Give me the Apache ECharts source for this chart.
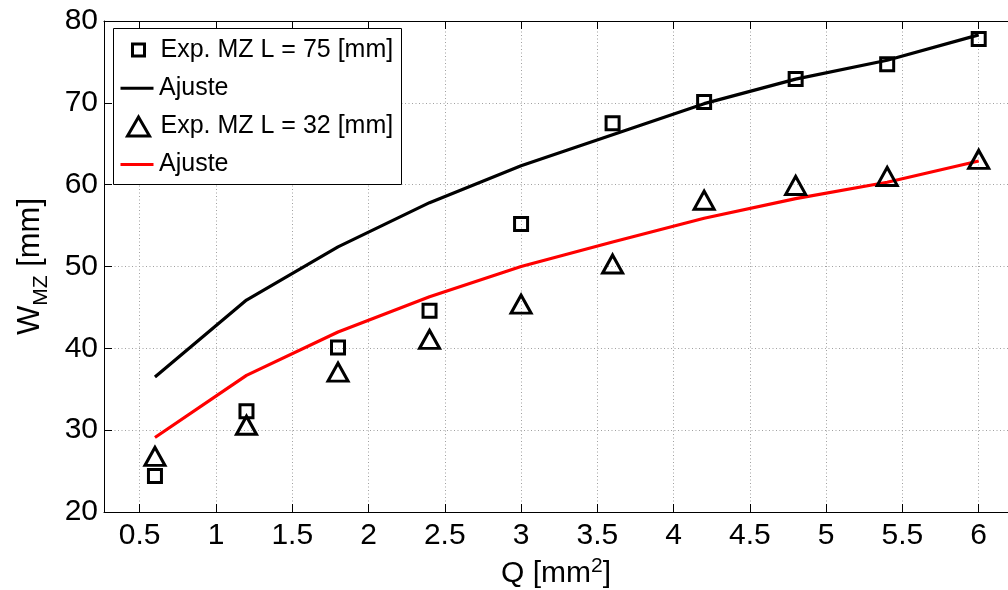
<!DOCTYPE html>
<html>
<head>
<meta charset="utf-8">
<script src="https://cdn.jsdelivr.net/npm/echarts/dist/echarts.min.js"></script>
<style>
html,body{margin:0;padding:0;background:#fff;}
#chart{width:1008px;height:590px;}
</style>
</head>
<body>
<div id="chart"></div>
<script>
// ---- data ----
const xQ      = [0.6, 1.2, 1.8, 2.4, 3.0, 3.6, 4.2, 4.8, 5.4, 6.0];
const expL75  = [24.4, 32.3, 40.1, 44.6, 55.2, 67.5, 70.1, 72.9, 74.7, 77.8];
const fitL75  = [36.5, 45.9, 52.4, 57.8, 62.3, 66.1, 69.9, 72.9, 75.2, 78.3];
const expL32  = [26.8, 30.6, 37.1, 41.1, 45.4, 50.3, 58.1, 59.9, 61.0, 63.1];
const fitL32  = [29.1, 36.7, 42.0, 46.3, 50.0, 53.0, 55.9, 58.3, 60.3, 62.9];
const yTicks  = [20, 30, 40, 50, 60, 70, 80];
const names   = ['Exp. MZ L = 75 [mm]', 'Ajuste 75', 'Exp. MZ L = 32 [mm]', 'Ajuste 32'];

const pair = (xs, ys) => xs.map((x, i) => [x, ys[i]]);
const FONT = "'Liberation Sans', Arial, Helvetica, sans-serif";
const X_MIN = 0.266, X_MAX = 6.192;
const gridLine = {show: true, lineStyle: {color: '#a0a0a0', type: [1, 2.5], width: 1}};

const chart = echarts.init(document.getElementById('chart'), null, {renderer: 'canvas'});

const txt = pad => ({fontFamily: FONT, fontSize: 25, color: '#000', lineHeight: 30, padding: [0, 0, 0, pad]});
const hollow = {color: 'rgba(0,0,0,0)', borderColor: '#000', borderWidth: 3, opacity: 1};
const legendBase = {
  orient: 'horizontal', padding: 0, itemGap: 0, selectedMode: false, z: 5,
  formatter: n => n.indexOf('Ajuste') === 0 ? 'Ajuste' : n
};
const rowY = [50, 88.3, 126.5, 164.5];
const ICON_CX = 137, TEXT_X = 159;
const legendSpec = [
  {icon: 'rect', w: 12, h: 12, itemStyle: hollow},
  {icon: 'rect', w: 33, h: 3, itemStyle: {color: '#000', borderWidth: 0, opacity: 1}},
  {icon: 'triangle', w: 22, h: 19, itemStyle: hollow},
  {icon: 'rect', w: 33, h: 3, itemStyle: {color: '#ff0000', borderWidth: 0, opacity: 1}}
];

const option = {
  animation: false,
  backgroundColor: '#fff',
  grid: {left: 104, top: 21, right: 0, bottom: 78, containLabel: false, outerBoundsMode: 'none'},
  xAxis: [
    {
      type: 'value', min: X_MIN, max: X_MAX, splitNumber: 12, position: 'bottom',
      name: 'Q [mm{sup|2}]', nameLocation: 'middle', nameGap: 38,
      nameTextStyle: {fontFamily: FONT, fontSize: 30, color: '#000', lineHeight: 36,
        rich: {sup: {fontFamily: FONT, fontSize: 21, color: '#000', verticalAlign: 'top', lineHeight: 22}}},
      axisLine: {show: true, onZero: false, lineStyle: {color: '#000', width: 1}},
      axisTick: {show: true, inside: true, length: 8, lineStyle: {color: '#000'}},
      axisLabel: {fontFamily: FONT, fontSize: 30, color: '#000', margin: 9,
        showMinLabel: false, showMaxLabel: false,
        formatter: v => String(Math.round(v * 100) / 100)},
      splitLine: gridLine
    },
    {
      type: 'value', min: X_MIN, max: X_MAX, splitNumber: 12, position: 'top',
      axisLine: {show: true, onZero: false, lineStyle: {color: '#000', width: 1}},
      axisTick: {show: true, inside: true, length: 8, lineStyle: {color: '#000'}},
      axisLabel: {show: false}, splitLine: {show: false}
    }
  ],
  yAxis: {
    type: 'value', min: yTicks[0], max: yTicks[yTicks.length - 1], interval: 10,
    name: 'W{sub|MZ} [mm]', nameLocation: 'middle', nameGap: 52, nameRotate: 90,
    nameTextStyle: {fontFamily: FONT, fontSize: 31, color: '#000', lineHeight: 44,
      rich: {sub: {fontFamily: FONT, fontSize: 21, color: '#000', verticalAlign: 'bottom', lineHeight: 24}}},
    axisLine: {show: true, onZero: false, lineStyle: {color: '#000', width: 1}},
    axisTick: {show: true, inside: true, length: 8, lineStyle: {color: '#000'}},
    axisLabel: {fontFamily: FONT, fontSize: 30, color: '#000', margin: 6},
    splitLine: gridLine
  },
  graphic: [{
    type: 'rect', z: 4,
    shape: {x: 113.5, y: 28.5, width: 288, height: 156},
    style: {fill: '#fff', stroke: '#000', lineWidth: 1}
  }],
  legend: names.map((n, i) => {
    const s = legendSpec[i];
    const left = ICON_CX - s.w / 2;
    return Object.assign({}, legendBase, {
      data: [{name: n, icon: s.icon}],
      left: left, top: rowY[i] - 15,
      itemWidth: s.w, itemHeight: s.h,
      itemStyle: s.itemStyle,
      lineStyle: {width: 0},
      textStyle: txt(TEXT_X - (left + s.w + 5))
    });
  }),
  series: [
    {
      name: names[0], type: 'scatter', data: pair(xQ, expL75), z: 3,
      symbol: 'rect', symbolSize: 13, itemStyle: hollow
    },
    {
      name: names[1], type: 'line', data: pair(xQ, fitL75), z: 2,
      symbol: 'none', showSymbol: false,
      lineStyle: {color: '#000', width: 3.2}, itemStyle: {color: '#000'}
    },
    {
      name: names[2], type: 'scatter', data: pair(xQ, expL32), z: 3,
      symbol: 'triangle', symbolSize: [20, 18], itemStyle: hollow
    },
    {
      name: names[3], type: 'line', data: pair(xQ, fitL32), z: 2,
      symbol: 'none', showSymbol: false,
      lineStyle: {color: '#ff0000', width: 3.2}, itemStyle: {color: '#ff0000'}
    }
  ]
};
chart.setOption(option);
</script>
</body>
</html>
